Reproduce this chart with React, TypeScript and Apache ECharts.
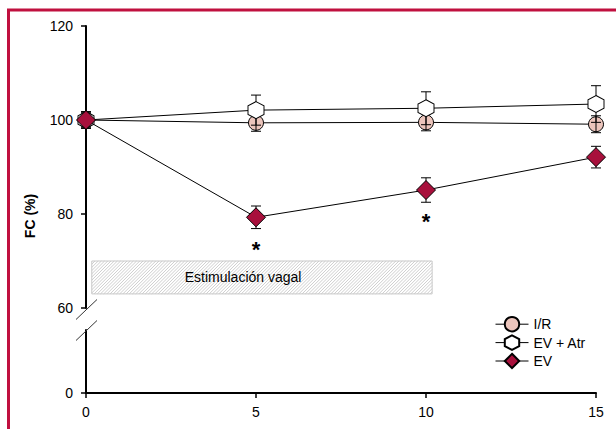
import React, { useEffect, useRef } from 'react';
import * as echarts from 'echarts';

const FONT = '"Liberation Sans", Arial, sans-serif';

const xValues = [0, 5, 10, 15];
const xTicks = [0, 5, 10, 15];
const yTicksUpper = [60, 80, 100, 120];
const yTicksLower = [0];

const seriesNames = ['I/R', 'EV + Atr', 'EV'];
const irMean = [100, 99.4, 99.5, 99.1];
const irErr = [1.5, 1.8, 1.8, 1.8];
const atrMean = [100, 102.1, 102.5, 103.4];
const atrErr = [1.5, 3.2, 3.5, 3.9];
const evMean = [100, 79.3, 85.1, 92.1];
const evErr = [1.8, 2.4, 2.6, 2.3];

const stimBox = [0.17, 70, 10.18, 63];
const stimLabel = 'Estimulación vagal';
const stimLabelPos = [4.62, 66.5];
const asteriskPos = [
  [5, 72.4],
  [10, 78.4],
];
const yAxisTitle = 'FC (%)';

const HEX = 'path://M0,-1 L0.866,-0.5 L0.866,0.5 L0,1 L-0.866,0.5 L-0.866,-0.5 Z';

function errSeries(mean: number[], err: number[], z: number) {
  return {
    type: 'custom',
    xAxisIndex: 0,
    yAxisIndex: 0,
    z,
    silent: true,
    clip: false,
    data: xValues.map((x, i) => [x, mean[i], err[i]]),
    renderItem: (_p: any, api: any) => {
      const x = api.value(0);
      const m = api.value(1);
      const e = api.value(2);
      const t = api.coord([x, m + e]);
      const b = api.coord([x, m - e]);
      const w = 5;
      const st = { stroke: '#000', lineWidth: 1 };
      return {
        type: 'group',
        children: [
          { type: 'line', shape: { x1: t[0], y1: t[1], x2: b[0], y2: b[1] }, style: st },
          { type: 'line', shape: { x1: t[0] - w, y1: t[1], x2: t[0] + w, y2: t[1] }, style: st },
          { type: 'line', shape: { x1: b[0] - w, y1: b[1], x2: b[0] + w, y2: b[1] }, style: st },
        ],
      };
    },
  };
}

export default function App() {
  const ref = useRef<HTMLDivElement>(null);
  useEffect(() => {
    const chart = echarts.init(ref.current!, null, { renderer: 'svg' });
    const axisLabelStyle = { color: '#000', fontSize: 14, fontFamily: FONT };
    const option: any = {
      animation: false,
      backgroundColor: '#fff',
      grid: [
        { left: 86, right: 20, top: 26, height: 282 },
        { left: 86, right: 20, top: 330, height: 63 },
      ],
      xAxis: [
        {
          gridIndex: 0,
          type: 'value',
          min: 0,
          max: 15,
          interval: 5,
          show: false,
        },
        {
          gridIndex: 1,
          type: 'value',
          min: 0,
          max: 15,
          interval: 5,
          axisLine: { show: true, onZero: false, lineStyle: { color: '#000', width: 2 } },
          axisTick: { show: true, length: 5, lineStyle: { color: '#000', width: 1.5 }, customValues: xTicks },
          axisLabel: { ...axisLabelStyle, margin: 12, customValues: xTicks },
          splitLine: { show: false },
        },
      ],
      yAxis: [
        {
          gridIndex: 0,
          type: 'value',
          min: 60,
          max: 120,
          interval: 20,
          axisLine: { show: true, onZero: false, lineStyle: { color: '#000', width: 2 } },
          axisTick: { show: true, length: 5, lineStyle: { color: '#000', width: 1.5 }, customValues: yTicksUpper },
          axisLabel: { ...axisLabelStyle, margin: 13, customValues: yTicksUpper },
          splitLine: { show: false },
        },
        {
          gridIndex: 1,
          type: 'value',
          min: 0,
          max: 1,
          interval: 1,
          axisLine: { show: true, onZero: false, lineStyle: { color: '#000', width: 2 } },
          axisTick: { show: true, length: 5, lineStyle: { color: '#000', width: 1.5 }, customValues: yTicksLower },
          axisLabel: { ...axisLabelStyle, margin: 13, customValues: yTicksLower },
          splitLine: { show: false },
        },
      ],
      legend: {
        data: seriesNames.map((n) => ({ name: n, lineStyle: { width: 1, color: '#000' } })),
        orient: 'vertical',
        left: 490,
        top: 311,
        itemWidth: 33,
        itemHeight: 18,
        itemGap: 2,
        selectedMode: false,
        lineStyle: { width: 1, color: '#000' },
        textStyle: { color: '#000', fontSize: 14, fontFamily: FONT },
      },
      graphic: [
        {
          type: 'polyline',
          shape: { points: [[8.5, 432], [8.5, 10], [620, 10]] },
          style: { stroke: '#c0103f', lineWidth: 3, fill: 'none' },
          z: 100,
        },
        {
          type: 'line',
          shape: { x1: 76, y1: 319.5, x2: 97, y2: 299.5 },
          style: { stroke: '#333', lineWidth: 1 },
          z: 100,
        },
        {
          type: 'line',
          shape: { x1: 76, y1: 340.5, x2: 97, y2: 320.5 },
          style: { stroke: '#333', lineWidth: 1 },
          z: 100,
        },
        {
          type: 'text',
          x: 30,
          y: 216,
          rotation: Math.PI / 2,
          style: {
            text: yAxisTitle,
            fontSize: 14,
            fontWeight: 'bold',
            fontFamily: FONT,
            fill: '#000',
            align: 'center',
            verticalAlign: 'middle',
          },
        },
      ],
      series: [
        {
          type: 'custom',
          xAxisIndex: 0,
          yAxisIndex: 0,
          z: 1,
          silent: true,
          clip: false,
          data: [stimBox],
          renderItem: (_p: any, api: any) => {
            const p0 = api.coord([api.value(0), api.value(1)]);
            const p1 = api.coord([api.value(2), api.value(3)]);
            const x0 = p0[0], y0 = p0[1], x1 = p1[0], y1 = p1[1];
            const children: any[] = [
              { type: 'rect', shape: { x: x0, y: y0, width: x1 - x0, height: y1 - y0 }, style: { fill: '#fff', stroke: 'none' } },
            ];
            const step = 3.2;
            for (let k = x0 + y0 + step; k < x1 + y1; k += step) {
              const ua = Math.max(x0, k - y1);
              const ub = Math.min(x1, k - y0);
              if (ub <= ua) continue;
              children.push({
                type: 'line',
                shape: { x1: ua, y1: k - ua, x2: ub, y2: k - ub },
                style: { stroke: '#cfcfcf', lineWidth: 1 },
              });
            }
            children.push({
              type: 'rect',
              shape: { x: x0, y: y0, width: x1 - x0, height: y1 - y0 },
              style: { fill: 'none', stroke: '#c8c8c8', lineWidth: 1 },
            });
            return { type: 'group', children };
          },
        },
        {
          type: 'custom',
          xAxisIndex: 0,
          yAxisIndex: 0,
          z: 2,
          silent: true,
          clip: false,
          data: [stimLabelPos],
          renderItem: (_p: any, api: any) => {
            const p = api.coord([api.value(0), api.value(1)]);
            return {
              type: 'text',
              x: p[0],
              y: p[1],
              style: { text: stimLabel, fontSize: 14, fontFamily: FONT, fill: '#000', align: 'center', verticalAlign: 'middle' },
            };
          },
        },
        {
          type: 'custom',
          xAxisIndex: 0,
          yAxisIndex: 0,
          z: 2,
          silent: true,
          clip: false,
          data: asteriskPos,
          renderItem: (_p: any, api: any) => {
            const p = api.coord([api.value(0), api.value(1)]);
            return {
              type: 'text',
              x: p[0],
              y: p[1],
              style: { text: '*', fontSize: 22, fontWeight: 'bold', fontFamily: FONT, fill: '#000', align: 'center', verticalAlign: 'middle' },
            };
          },
        },
        {
          name: 'I/R',
          type: 'line',
          xAxisIndex: 0,
          yAxisIndex: 0,
          z: 3,
          data: xValues.map((x, i) => [x, irMean[i]]),
          symbol: 'circle',
          symbolSize: 15,
          showAllSymbol: true,
          lineStyle: { color: '#000', width: 1 },
          itemStyle: { color: '#ecc5bc', borderColor: '#000', borderWidth: 1 },
          clip: false,
        },
        errSeries(irMean, irErr, 4),
        errSeries(atrMean, atrErr, 4),
        {
          name: 'EV + Atr',
          type: 'line',
          xAxisIndex: 0,
          yAxisIndex: 0,
          z: 5,
          data: xValues.map((x, i) => [x, atrMean[i]]),
          symbol: HEX,
          symbolSize: [16, 17],
          symbolKeepAspect: false,
          lineStyle: { color: '#000', width: 1 },
          itemStyle: { color: '#fff', borderColor: '#000', borderWidth: 1 },
          clip: false,
        },
        errSeries(evMean, evErr, 6),
        {
          name: 'EV',
          type: 'line',
          xAxisIndex: 0,
          yAxisIndex: 0,
          z: 7,
          data: xValues.map((x, i) => [x, evMean[i]]),
          symbol: 'diamond',
          symbolSize: [19, 19],
          lineStyle: { color: '#000', width: 1 },
          itemStyle: { color: '#a8103c', borderColor: '#000', borderWidth: 1 },
          clip: false,
        },
      ],
    };
    chart.setOption(option);
    return () => chart.dispose();
  }, []);
  return <div ref={ref} style={{ position: 'fixed', left: 0, top: 0, width: 616, height: 429 }} />;
}
